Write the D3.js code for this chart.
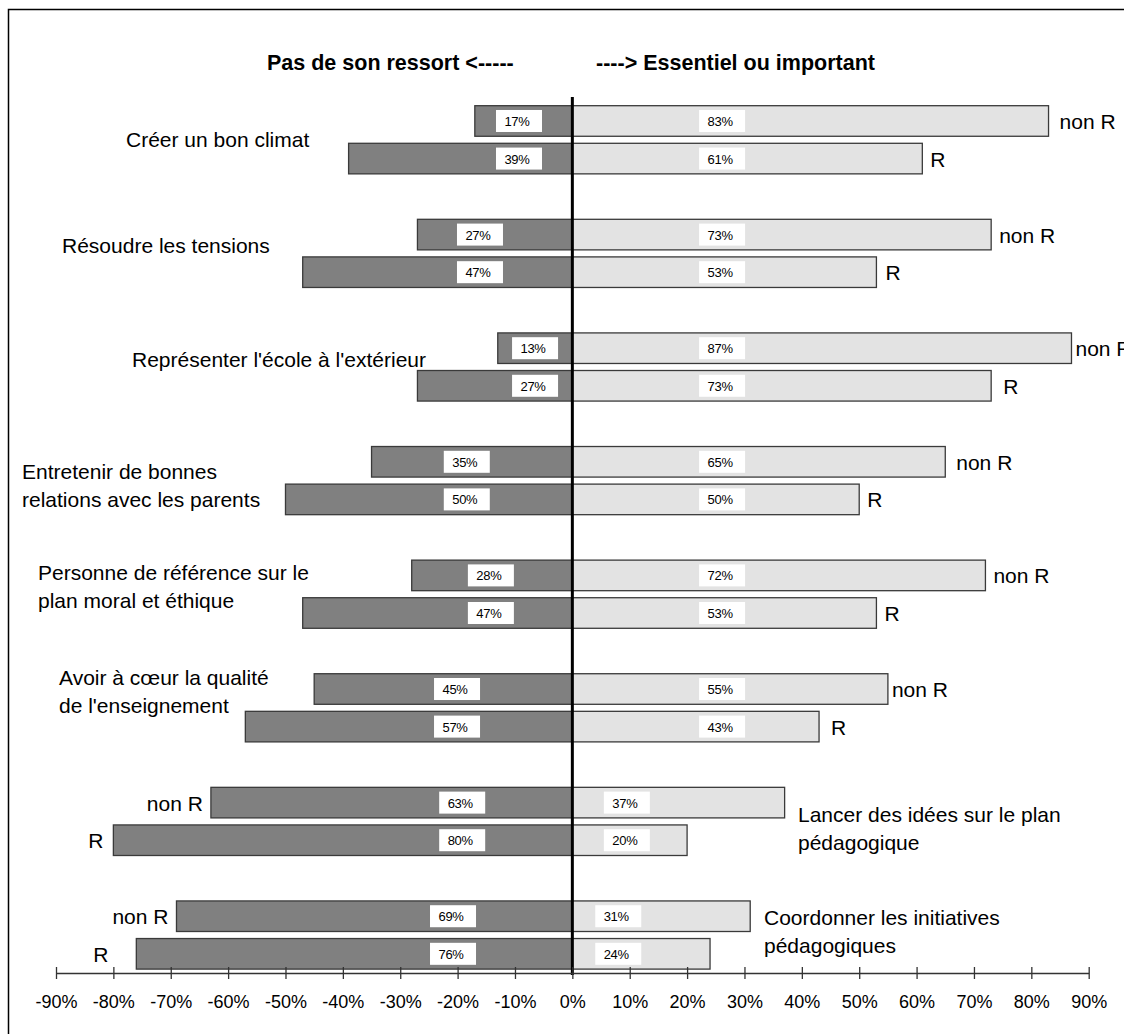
<!DOCTYPE html>
<html>
<head>
<meta charset="utf-8">
<script src="https://cdn.jsdelivr.net/npm/d3@7"></script>
<style>
  html, body { margin: 0; padding: 0; background: #fff; }
  svg { display: block; font-family: Arial, "Liberation Sans", sans-serif; }
</style>
</head>
<body>
<script>
// Categories (roles of the school head), top to bottom
const categories = [
  "Créer un bon climat",
  "Résoudre les tensions",
  "Représenter l'école à l'extérieur",
  "Entretenir de bonnes relations avec les parents",
  "Personne de référence sur le plan moral et éthique",
  "Avoir à cœur la qualité de l'enseignement",
  "Lancer des idées sur le plan pédagogique",
  "Coordonner les initiatives pédagogiques"
];
// Wrapped lines of each category label
const categoryLines = [
  ["Créer un bon climat"],
  ["Résoudre les tensions"],
  ["Représenter l'école à l'extérieur"],
  ["Entretenir de bonnes", "relations avec les parents"],
  ["Personne de référence sur le", "plan moral et éthique"],
  ["Avoir à cœur la qualité", "de l'enseignement"],
  ["Lancer des idées sur le plan", "pédagogique"],
  ["Coordonner les initiatives", "pédagogiques"]
];
const groups = ["non R", "R"];

// "Pas de son ressort" (left) and "Essentiel ou important" (right), in %
const outNonR = [17, 27, 13, 35, 28, 45, 63, 69];
const outR    = [39, 47, 27, 50, 47, 57, 80, 76];
const inNonR  = [83, 73, 87, 65, 72, 55, 37, 31];
const inR     = [61, 53, 73, 50, 53, 43, 20, 24];

const tickValues = [-90, -80, -70, -60, -50, -40, -30, -20, -10, 0, 10, 20, 30, 40, 50, 60, 70, 80, 90];
const titleLeft = "Pas de son ressort <-----";
const titleRight = "----> Essentiel ou important";

// ---- layout (placement of annotations) ----
// value-label box centres, in axis units
const outLabelAt = [-9.3, -16.1, -6.5, -18.4, -14.2, -20.1, -19.2, -20.8];
const inLabelAt  = [26.1, 26.1, 26.1, 26.1, 26.1, 26.1, 9.5, 8.0];
// side where "non R" / "R" tags sit, gap to the bar end (px), category label anchor (px)
const tagSide = ["right", "right", "right", "right", "right", "right", "left", "left"];
const tagGap = [[11, 8], [8, 9], [4, 12], [11, 8], [8, 8], [4, 12], [8, 10], [8, 28]];
const catPos = [
  [126, 147], [62, 253], [132, 367], [22, 479],
  [38, 580], [59, 685], [798, 822], [764, 925]
];

const W = 1124, H = 1034;
const svg = d3.select("body").append("svg").attr("width", W).attr("height", H);

// chart frame
svg.append("rect")
  .attr("x", 8.5).attr("y", 9.5)
  .attr("width", W + 20).attr("height", H + 20)
  .attr("fill", "none").attr("stroke", "#000").attr("stroke-width", 1.5);

const x = d3.scaleLinear().domain([-90, 90]).range([56, 1088.7]);
const y = d3.scaleBand().domain(categories).range([105.7, 969.1]).paddingInner(0.4).paddingOuter(0);
const yIn = d3.scaleBand().domain(groups).range([0, y.bandwidth()]).paddingInner(0.187);

const rows = [];
categories.forEach((c, i) => {
  rows.push({ i, k: 0, cat: c, grp: "non R", out: outNonR[i], inn: inNonR[i] });
  rows.push({ i, k: 1, cat: c, grp: "R", out: outR[i], inn: inR[i] });
});

const g = svg.append("g");
const barY = d => y(d.cat) + yIn(d.grp);
const bh = yIn.bandwidth();

// left bars
g.selectAll("rect.out").data(rows).join("rect")
  .attr("class", "out")
  .attr("x", d => x(-d.out)).attr("y", barY)
  .attr("width", d => x(0) - x(-d.out)).attr("height", bh)
  .attr("fill", "#808080").attr("stroke", "#3a3a3a").attr("stroke-width", 1.3);

// right bars
g.selectAll("rect.in").data(rows).join("rect")
  .attr("class", "in")
  .attr("x", x(0)).attr("y", barY)
  .attr("width", d => x(d.inn) - x(0)).attr("height", bh)
  .attr("fill", "#e3e3e3").attr("stroke", "#3a3a3a").attr("stroke-width", 1.3);

// value labels in white boxes
function valueLabels(cls, getVal, posArr) {
  const lg = g.selectAll("g." + cls).data(rows).join("g").attr("class", cls)
    .attr("transform", d => `translate(${x(posArr[d.i])},${barY(d) + bh / 2})`);
  lg.append("rect").attr("x", -23).attr("y", -11).attr("width", 46).attr("height", 22).attr("fill", "#fff");
  lg.append("text").attr("x", -2).attr("y", 5)
    .attr("text-anchor", "middle").attr("font-size", 13).attr("letter-spacing", -0.3)
    .attr("fill", "#000")
    .text(d => getVal(d) + "%");
}
valueLabels("outlab", d => d.out, outLabelAt);
valueLabels("inlab", d => d.inn, inLabelAt);

// "non R" / "R" tags next to bars
g.selectAll("text.tag").data(rows).join("text")
  .attr("class", "tag")
  .attr("font-size", 21)
  .attr("y", d => barY(d) + bh / 2 + 8)
  .attr("x", d => tagSide[d.i] === "right"
    ? x(d.inn) + tagGap[d.i][d.k]
    : x(-d.out) - tagGap[d.i][d.k])
  .attr("text-anchor", d => tagSide[d.i] === "right" ? "start" : "end")
  .text(d => d.grp);

// category labels
const cl = g.selectAll("text.cat").data(categoryLines).join("text")
  .attr("class", "cat").attr("font-size", 21)
  .attr("x", (d, i) => catPos[i][0]).attr("y", (d, i) => catPos[i][1]);
cl.selectAll("tspan").data((d, i) => d.map(s => ({ s, i }))).join("tspan")
  .attr("x", d => catPos[d.i][0])
  .attr("dy", (d, k) => k === 0 ? 0 : 28)
  .text(d => d.s);

// zero line
g.append("line")
  .attr("x1", x(0)).attr("x2", x(0)).attr("y1", 97).attr("y2", 975)
  .attr("stroke", "#000").attr("stroke-width", 3);

// horizontal axis
const axisY = 973;
const ax = svg.append("g").attr("transform", `translate(0,${axisY})`)
  .call(d3.axisBottom(x).tickValues(tickValues).tickFormat(d => d + "%").tickSizeInner(6).tickSizeOuter(0));
ax.select(".domain").attr("stroke", "#333").attr("stroke-width", 1.3);
ax.selectAll(".tick line").attr("y1", -6).attr("y2", 6).attr("stroke", "#333").attr("stroke-width", 1.3);
ax.selectAll(".tick text").attr("y", 35).attr("dy", 0).attr("font-size", 18)
  .attr("font-family", "Arial, 'Liberation Sans', sans-serif").attr("fill", "#000");

// column headings
svg.append("text").attr("x", 267).attr("y", 70).attr("font-size", 21.5).attr("font-weight", "bold").text(titleLeft);
svg.append("text").attr("x", 596).attr("y", 70).attr("font-size", 21.5).attr("font-weight", "bold").text(titleRight);
</script>
</body>
</html>
